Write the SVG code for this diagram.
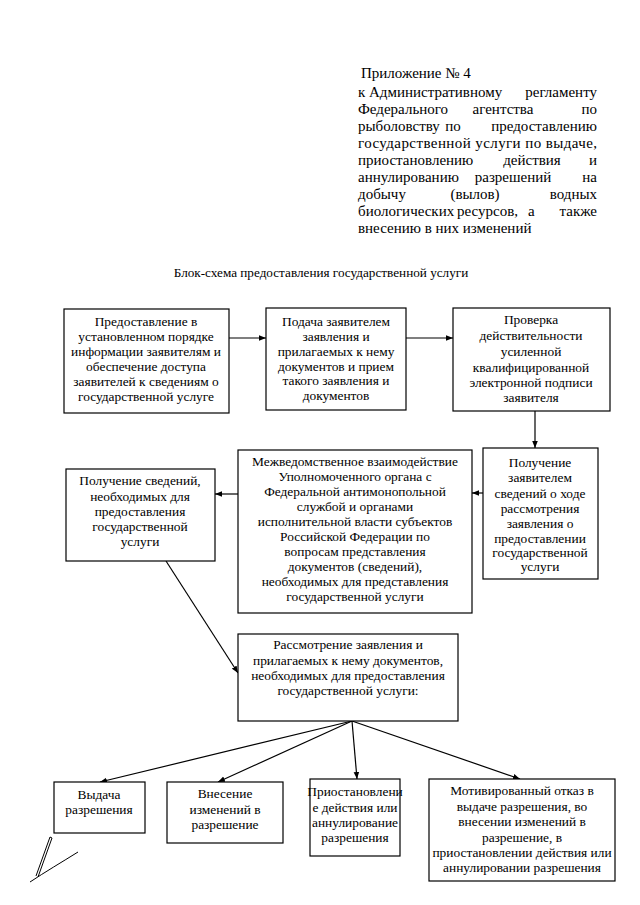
<svg xmlns="http://www.w3.org/2000/svg" width="640" height="905" viewBox="0 0 640 905">
<style>
text{font-family:'Liberation Serif','DejaVu Serif',serif;fill:#000}
.h{font-size:15px}
.ti{font-size:13.2px;text-anchor:middle}
.t{font-size:13.4px;text-anchor:middle}
.e{text-anchor:end}
.m{text-anchor:middle}
.b{fill:#fff;stroke:#000;stroke-width:1.2}
.c{stroke:#000;stroke-width:1.2;fill:none;marker-end:url(#a)}
</style>
<defs>
<marker id="a" viewBox="0 0 10 10" refX="10" refY="5" markerWidth="7" markerHeight="7" markerUnits="userSpaceOnUse" orient="auto">
<path d="M0,1 L10,5 L0,9 z" fill="#000"/>
</marker>
</defs>
<rect width="640" height="905" fill="#fff"/>
<g id="header" class="h">
<text x="361" y="78">Приложение № 4</text>
<text x="358" y="97">к Административному</text><text x="597" y="97" class="e">регламенту</text>
<text x="358" y="114">Федерального</text><text x="503" y="114" class="m">агентства</text><text x="597" y="114" class="e">по</text>
<text x="358" y="131">рыболовству</text><text x="453" y="131" class="m">по</text><text x="597" y="131" class="e">предоставлению</text>
<text x="358" y="148" textLength="239" lengthAdjust="spacing">государственной услуги по выдаче,</text>
<text x="358" y="165">приостановлению</text><text x="532" y="165" class="m">действия</text><text x="597" y="165" class="e">и</text>
<text x="358" y="182">аннулированию</text><text x="513" y="182" class="m">разрешений</text><text x="597" y="182" class="e">на</text>
<text x="358" y="199">добычу</text><text x="475" y="199" class="m">(вылов)</text><text x="597" y="199" class="e">водных</text>
<text x="358" y="216">биологических</text><text x="457" y="216">ресурсов,</text><text x="528" y="216">а</text><text x="597" y="216" class="e">также</text>
<text x="358" y="233">внесению в них изменений</text>
</g>
<text id="title" x="321" y="277" class="ti">Блок-схема предоставления государственной услуги</text>
<g id="connectors">
<line class="c" x1="229" y1="338" x2="266" y2="338"/>
<line class="c" x1="406" y1="338" x2="453" y2="338"/>
<line class="c" x1="535" y1="411" x2="535" y2="448"/>
<line class="c" x1="483" y1="493" x2="472" y2="493"/>
<line class="c" x1="238" y1="494" x2="215" y2="494"/>
<line class="c" x1="166" y1="561" x2="238" y2="673"/>
<line class="c" x1="352" y1="721" x2="100" y2="782"/>
<line class="c" x1="352" y1="721" x2="218" y2="782"/>
<line class="c" x1="352" y1="721" x2="357" y2="779"/>
<line class="c" x1="352" y1="721" x2="520" y2="779"/>
</g>
<g id="n1"><rect class="b" x="64" y="309" width="165" height="104"/>
<text class="t" x="146" y="326">Предоставление в</text>
<text class="t" x="146" y="341">установленном порядке</text>
<text class="t" x="146" y="356">информации заявителям и</text>
<text class="t" x="146" y="371">обеспечение доступа</text>
<text class="t" x="146" y="386">заявителей к сведениям о</text>
<text class="t" x="146" y="401">государственной услуге</text></g>
<g id="n2"><rect class="b" x="266" y="308" width="140" height="102"/>
<text class="t" x="336" y="326">Подача заявителем</text>
<text class="t" x="336" y="341">заявления и</text>
<text class="t" x="336" y="356">прилагаемых к нему</text>
<text class="t" x="336" y="371">документов и прием</text>
<text class="t" x="336" y="385">такого заявления и</text>
<text class="t" x="336" y="400">документов</text></g>
<g id="n3"><rect class="b" x="453" y="308" width="157" height="103"/>
<text class="t" x="531" y="324">Проверка</text>
<text class="t" x="531" y="340">действительности</text>
<text class="t" x="531" y="356">усиленной</text>
<text class="t" x="531" y="372">квалифицированной</text>
<text class="t" x="531" y="387">электронной подписи</text>
<text class="t" x="531" y="402">заявителя</text></g>
<g id="n4"><rect class="b" x="483" y="448" width="115" height="131"/>
<text class="t" x="540" y="467">Получение</text>
<text class="t" x="540" y="482">заявителем</text>
<text class="t" x="540" y="498">сведений о ходе</text>
<text class="t" x="540" y="513">рассмотрения</text>
<text class="t" x="540" y="528">заявления о</text>
<text class="t" x="540" y="543">предоставлении</text>
<text class="t" x="540" y="557">государственной</text>
<text class="t" x="540" y="571">услуги</text></g>
<g id="n5"><rect class="b" x="238" y="450" width="234" height="163"/>
<text class="t" x="355" y="466">Межведомственное взаимодействие</text>
<text class="t" x="355" y="481">Уполномоченного органа с</text>
<text class="t" x="355" y="496">Федеральной антимонопольной</text>
<text class="t" x="355" y="511">службой и органами</text>
<text class="t" x="355" y="526">исполнительной власти субъектов</text>
<text class="t" x="355" y="541">Российской Федерации по</text>
<text class="t" x="355" y="556">вопросам представления</text>
<text class="t" x="355" y="571">документов (сведений),</text>
<text class="t" x="355" y="586">необходимых для представления</text>
<text class="t" x="355" y="601">государственной услуги</text></g>
<g id="n6"><rect class="b" x="66" y="469" width="149" height="92"/>
<text class="t" x="140" y="485">Получение сведений,</text>
<text class="t" x="140" y="501">необходимых для</text>
<text class="t" x="140" y="516">предоставления</text>
<text class="t" x="140" y="531">государственной</text>
<text class="t" x="140" y="546">услуги</text></g>
<g id="n7"><rect class="b" x="238" y="634" width="220" height="87"/>
<text class="t" x="348" y="649">Рассмотрение заявления и</text>
<text class="t" x="348" y="665">прилагаемых к нему документов,</text>
<text class="t" x="348" y="680">необходимых для предоставления</text>
<text class="t" x="348" y="695">государственной услуги:</text></g>
<g id="n8"><rect class="b" x="54" y="782" width="91" height="51"/>
<text class="t" x="99" y="799">Выдача</text>
<text class="t" x="99" y="814">разрешения</text></g>
<g id="n9"><rect class="b" x="167" y="782" width="116" height="61"/>
<text class="t" x="225" y="798">Внесение</text>
<text class="t" x="225" y="814">изменений в</text>
<text class="t" x="225" y="829">разрешение</text></g>
<g id="n10"><rect class="b" x="310" y="779" width="90" height="77"/>
<text class="t" x="355" y="796">Приостановлени</text>
<text class="t" x="355" y="812">е действия или</text>
<text class="t" x="355" y="827">аннулирование</text>
<text class="t" x="355" y="842">разрешения</text></g>
<g id="n11"><rect class="b" x="429" y="779" width="186" height="102"/>
<text class="t" x="522" y="795">Мотивированный отказ в</text>
<text class="t" x="522" y="811">выдаче разрешения, во</text>
<text class="t" x="522" y="826">внесении изменений в</text>
<text class="t" x="522" y="842">разрешение, в</text>
<text class="t" x="522" y="857">приостановлении действия или</text>
<text class="t" x="522" y="872">аннулировании разрешения</text></g>
<g id="scribble" fill="none" stroke="#000" stroke-width="1">
<path d="M50,837 L36,876 M52,838 L38,877 M50,837 L52,838"/>
<path d="M30,882 C45,872 62,862 78,852"/>
</g>
</svg>
